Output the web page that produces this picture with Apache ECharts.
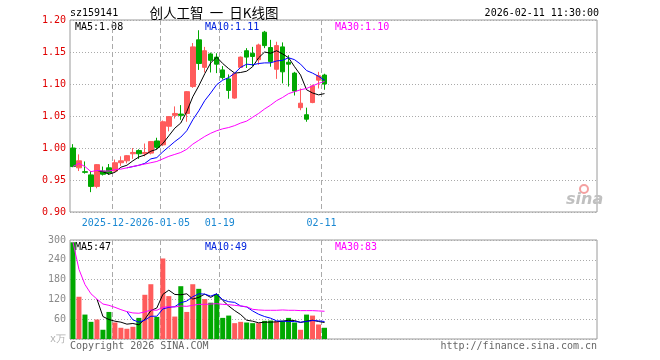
<!DOCTYPE html>
<html><head><meta charset="utf-8">
<script src="https://cdn.jsdelivr.net/npm/echarts@6/dist/echarts.min.js"></script>
<style>html,body{margin:0;padding:0;background:#fff}#c{width:660px;height:360px}</style>
</head><body><div id="c"></div>
<script>
// ---------- data ----------
const SLOTS = 88;
const dates = ['2025-12-11','2025-12-12','2025-12-15','2025-12-16','2025-12-17','2025-12-18','2025-12-19','2025-12-22','2025-12-23','2025-12-24','2025-12-25','2025-12-26','2025-12-29','2025-12-30','2025-12-31','2026-01-05','2026-01-06','2026-01-07','2026-01-08','2026-01-09','2026-01-12','2026-01-13','2026-01-14','2026-01-15','2026-01-16','2026-01-19','2026-01-20','2026-01-21','2026-01-22','2026-01-23','2026-01-26','2026-01-27','2026-01-28','2026-01-29','2026-01-30','2026-02-02','2026-02-03','2026-02-04','2026-02-05','2026-02-06','2026-02-09','2026-02-10','2026-02-11'];
// [open, close, low, high]
const ohlc = [
[1.000,0.971,0.970,1.006],[0.969,0.980,0.964,0.990],[0.963,0.962,0.960,0.979],[0.958,0.940,0.931,0.964],
[0.940,0.974,0.937,0.975],[0.964,0.959,0.957,0.971],[0.969,0.961,0.958,0.975],[0.964,0.977,0.963,0.982],
[0.977,0.980,0.972,0.987],[0.980,0.988,0.976,0.989],[0.991,0.993,0.983,1.000],[0.996,0.991,0.983,0.998],
[0.991,0.993,0.987,1.007],[0.992,1.010,0.990,1.011],[1.011,1.001,0.998,1.016],[1.005,1.041,1.003,1.043],
[1.034,1.049,1.026,1.050],[1.051,1.054,1.046,1.065],[1.053,1.051,1.044,1.067],[1.054,1.088,1.041,1.089],
[1.096,1.158,1.094,1.164],[1.169,1.132,1.122,1.184],[1.126,1.152,1.118,1.158],[1.147,1.137,1.118,1.149],
[1.142,1.131,1.117,1.148],[1.122,1.110,1.107,1.128],[1.108,1.090,1.077,1.115],[1.078,1.116,1.077,1.117],
[1.126,1.142,1.125,1.143],[1.152,1.142,1.125,1.156],[1.148,1.143,1.128,1.158],[1.138,1.161,1.130,1.163],
[1.181,1.160,1.156,1.183],[1.157,1.135,1.127,1.169],[1.123,1.160,1.108,1.166],[1.158,1.119,1.101,1.165],
[1.134,1.131,1.096,1.145],[1.117,1.089,1.082,1.119],[1.063,1.070,1.059,1.093],[1.052,1.045,1.041,1.063],
[1.071,1.097,1.070,1.099],[1.106,1.113,1.093,1.119],[1.114,1.100,1.091,1.116]];
const ma5 = [null,null,null,null,0.965,0.963,0.959,0.962,0.970,0.973,0.980,0.986,0.989,0.995,0.998,1.007,1.019,1.031,1.039,1.057,1.080,1.097,1.116,1.133,1.142,1.132,1.124,1.117,1.118,1.120,1.127,1.141,1.150,1.148,1.152,1.147,1.141,1.127,1.114,1.091,1.086,1.083,1.085];
const ma10 = [null,null,null,null,null,null,null,null,null,0.969,0.971,0.973,0.976,0.983,0.985,0.994,1.002,1.010,1.017,1.027,1.044,1.058,1.074,1.086,1.099,1.106,1.110,1.117,1.126,1.131,1.130,1.132,1.133,1.133,1.136,1.137,1.141,1.138,1.131,1.121,1.117,1.112,1.106];
const ma30 = [0.971,0.976,0.971,0.963,0.965,0.964,0.964,0.966,0.967,0.969,0.971,0.973,0.975,0.977,0.979,0.983,0.987,0.990,0.993,0.998,1.006,1.012,1.018,1.023,1.027,1.030,1.032,1.035,1.039,1.042,1.048,1.054,1.061,1.067,1.074,1.079,1.085,1.088,1.091,1.093,1.097,1.101,1.104];
const vol = [293,128,74,52,59,28,82,50,34,31,37,64,134,166,67,244,130,68,160,82,166,152,121,110,136,64,71,48,52,50,48,48,55,56,54,55,64,50,28,74,71,44,34];
const vma5 = [null,null,null,null,121,68,59,54,51,45,47,43,60,86,94,135,148,135,134,137,121,126,136,126,137,117,100,86,74,57,54,49,51,51,52,54,57,56,50,54,57,53,50];
const vma10 = [null,null,null,null,null,null,null,null,null,83,58,51,57,69,69,91,96,98,110,115,128,137,136,130,137,119,113,111,100,97,85,75,68,63,55,54,53,53,51,53,56,55,53];
const vma30 = [293,211,165,137,121,106,102,96,89,83,79,78,82,88,87,96,98,97,100,99,102,105,105,106,107,105,104,102,100,98,90,88,87,87,87,88,87,87,86,86,86,85,84];
const tickIdx = [7,15,25,42];
const tickLabels = ['2025-12-22','2026-01-05','01-19','02-11'];
const priceTicks = {min:0.90, max:1.20, step:0.05};
const volTicks = {min:0, max:300, step:60};
const maText = ['MA5:1.08','MA10:1.11','MA30:1.10'];
const vmaText = ['MA5:47','MA10:49','MA30:83'];

// ---------- build ----------
const MONO = "'DejaVu Sans Mono', 'Liberation Mono', monospace";
const RED = '#ff5b5b', GREEN = '#00a800';
const slotCats = [];
for (let i = 0; i < SLOTS; i++) slotCats.push(i < dates.length ? dates[i] : 'x' + i);
function edgeCats(which) {
  const out = [];
  for (let i = 0; i <= SLOTS; i++) {
    const k = tickIdx.indexOf(i);
    out.push(k >= 0 && which.indexOf(k) >= 0 ? tickLabels[k] : '');
  }
  return out;
}
const showTick = (i, v) => v !== '';
const volData = vol.map((v, i) => ({ value: v, itemStyle: { color: ohlc[i][1] >= ohlc[i][0] ? RED : GREEN } }));

const G0 = { left: 70, top: 20, width: 527, height: 192 };
const G1 = { left: 70, top: 240, width: 527, height: 99 };
const gridStyle = { show: true, borderColor: '#9a9a9a', borderWidth: 1, backgroundColor: 'transparent' };

function dataAxis(gi) {
  return { type: 'category', gridIndex: gi, data: slotCats, boundaryGap: true, show: false };
}
function edgeAxis(gi, which, labels, lines, z) {
  return { type: 'category', gridIndex: gi, data: edgeCats(which), boundaryGap: false, position: 'bottom', z,
    axisLine: { show: false }, axisTick: { show: false },
    axisLabel: { show: labels, interval: showTick, hideOverlap: false, color: '#1a88d2', fontFamily: MONO, fontSize: 10, margin: 5,
      backgroundColor: '#fff', padding: [1, 0, 1, 0] },
    splitLine: { show: lines, interval: showTick, lineStyle: { color: '#aaa', type: [5, 3], width: 1 } } };
}
function lineS(name, data, color, xi, yi) {
  return { type: 'line', name, data, xAxisIndex: xi, yAxisIndex: yi, symbol: 'none', showSymbol: false,
    lineStyle: { color, width: 1 }, itemStyle: { color }, connectNulls: false, silent: true, z: 5 };
}
function txt(x, y, text, fill, opts) {
  return Object.assign({ type: 'text', x, y, silent: true,
    style: Object.assign({ text, fill, font: '10px ' + MONO, textAlign: 'left', textVerticalAlign: 'middle', verticalAlign: 'middle' }, opts || {}) });
}

const option = {
  animation: false,
  backgroundColor: '#fff',
  grid: [Object.assign({}, G0, gridStyle), Object.assign({}, G1, gridStyle)],
  xAxis: [
    dataAxis(0),
    edgeAxis(0, [0], true, false, 1),
    edgeAxis(0, [0, 1, 2, 3], false, true, 2),
    edgeAxis(0, [1, 2, 3], true, false, 3),
    dataAxis(1),
    edgeAxis(1, [0, 1, 2, 3], false, true, 2)
  ],
  yAxis: [
    { type: 'value', gridIndex: 0, min: priceTicks.min, max: priceTicks.max, interval: priceTicks.step,
      axisLine: { show: false }, axisTick: { show: false },
      axisLabel: { color: '#e00000', fontFamily: MONO, fontSize: 10, margin: 4, formatter: v => v.toFixed(2) },
      splitLine: { show: true, lineStyle: { color: '#aaa', type: [1, 2] } } },
    { type: 'value', gridIndex: 1, min: volTicks.min, max: volTicks.max, interval: volTicks.step,
      axisLine: { show: false }, axisTick: { show: false },
      axisLabel: { color: '#8a8a8a', fontFamily: MONO, fontSize: 10, margin: 4,
        formatter: v => v === 0 ? '{u|x万}' : String(v),
        rich: { u: { color: '#b0b0b0', fontFamily: MONO, fontSize: 10 } } },
      splitLine: { show: true, lineStyle: { color: '#aaa', type: [1, 2] } } }
  ],
  series: [
    { type: 'candlestick', data: ohlc.map(d => [d[0], d[1], d[2], d[3]]), xAxisIndex: 0, yAxisIndex: 0, barWidth: 5,
      itemStyle: { color: RED, color0: GREEN, borderColor: RED, borderColor0: GREEN, borderWidth: 1 }, silent: true, z: 3 },
    lineS('MA5', ma5, '#000000', 0, 0),
    lineS('MA10', ma10, '#0000ff', 0, 0),
    lineS('MA30', ma30, '#ff00ff', 0, 0),
    { type: 'bar', data: volData, xAxisIndex: 4, yAxisIndex: 1, barWidth: 5, silent: true, z: 3 },
    lineS('VMA5', vma5, '#000000', 4, 1),
    lineS('VMA10', vma10, '#0000ff', 4, 1),
    lineS('VMA30', vma30, '#ff00ff', 4, 1)
  ],
  graphic: [
    txt(70, 13, 'sz159141', '#000'),
    txt(214, 13, '创人工智  一  日K线图', '#000', { font: "13.5px 'Noto Sans CJK SC', sans-serif", textAlign: 'center' }),
    txt(599, 13, '2026-02-11 11:30:00', '#000', { textAlign: 'right' }),
    txt(75, 27, maText[0], '#000'),
    txt(205, 27, maText[1], '#0022dd'),
    txt(335, 27, maText[2], '#ff00ff'),
    txt(75, 247, vmaText[0], '#000'),
    txt(205, 247, vmaText[1], '#0022dd'),
    txt(335, 247, vmaText[2], '#ff00ff'),
    txt(70, 346, 'Copyright 2026 SINA.COM', '#666'),
    txt(597, 346, 'http://finance.sina.com.cn', '#666', { textAlign: 'right' }),
    { type: 'circle', shape: { cx: 584, cy: 189, r: 4 }, style: { fill: 'none', stroke: '#f4a0a0', lineWidth: 2 }, silent: true },
    txt(566, 200, 'sina', '#c0c0c0', { font: "italic bold 16px 'DejaVu Sans', sans-serif" })
  ]
};
const chart = echarts.init(document.getElementById('c'), null, { renderer: 'canvas' });
chart.setOption(option);
</script></body></html>
